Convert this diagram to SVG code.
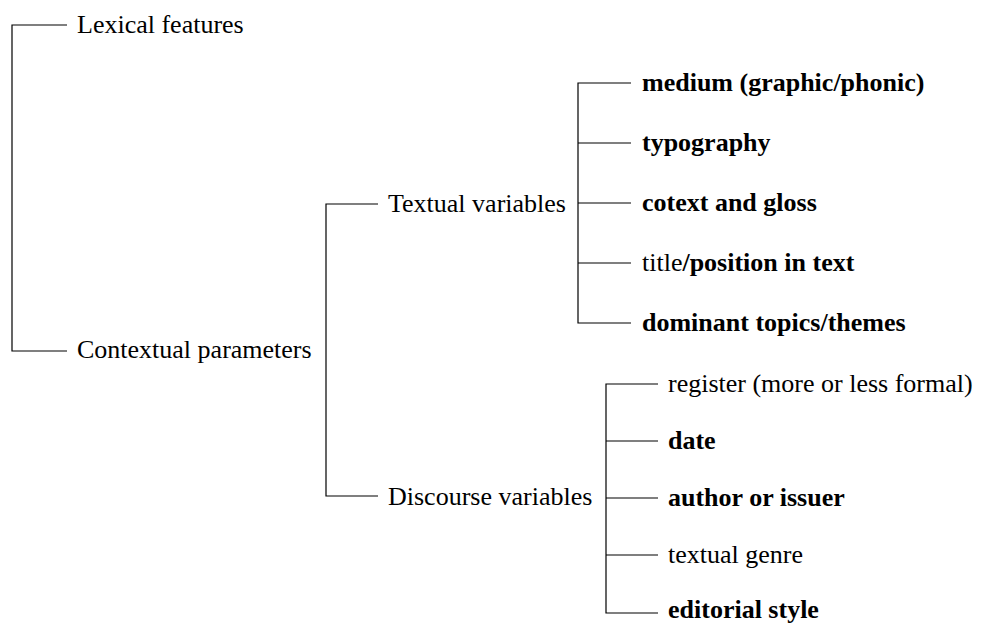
<svg xmlns="http://www.w3.org/2000/svg" width="981" height="624" viewBox="0 0 981 624">
<style>
  .c { fill: none; stroke: #000; stroke-width: 1.2; }
  text { font-family: "Liberation Serif", "Times New Roman", serif; font-size: 26px; fill: #000; }
  .b { font-weight: bold; }
</style>
<rect width="981" height="624" fill="#fff"/>
<g id="connectors">
  <path class="c" d="M67,25 H12 V351 H67"/>
  <path class="c" d="M378,204 H326 V496 H378"/>
  <path class="c" d="M631,83 H578 V323 H631 M578,143 H631 M578,203 H631 M578,263 H631"/>
  <path class="c" d="M658,384 H606 V613 H658 M606,441 H658 M606,498 H658 M606,555 H658"/>
</g>
<g id="lexical"><text x="77" y="33">Lexical features</text></g>
<g id="contextual"><text x="77" y="358">Contextual parameters</text></g>
<g id="textual"><text x="388" y="212">Textual variables</text></g>
<g id="discourse"><text x="388" y="505">Discourse variables</text></g>
<g id="medium"><text x="642" y="91" class="b">medium (graphic/phonic)</text></g>
<g id="typography"><text x="642" y="151" class="b">typography</text></g>
<g id="cotext"><text x="642" y="211" class="b">cotext and gloss</text></g>
<g id="title"><text x="642" y="271">title<tspan class="b">/position in text</tspan></text></g>
<g id="dominant"><text x="642" y="331" class="b">dominant topics/themes</text></g>
<g id="register"><text x="668" y="392">register (more or less formal)</text></g>
<g id="date"><text x="668" y="449" class="b">date</text></g>
<g id="author"><text x="668" y="506" class="b">author or issuer</text></g>
<g id="genre"><text x="668" y="563">textual genre</text></g>
<g id="editorial"><text x="668" y="618" class="b">editorial style</text></g>
</svg>
